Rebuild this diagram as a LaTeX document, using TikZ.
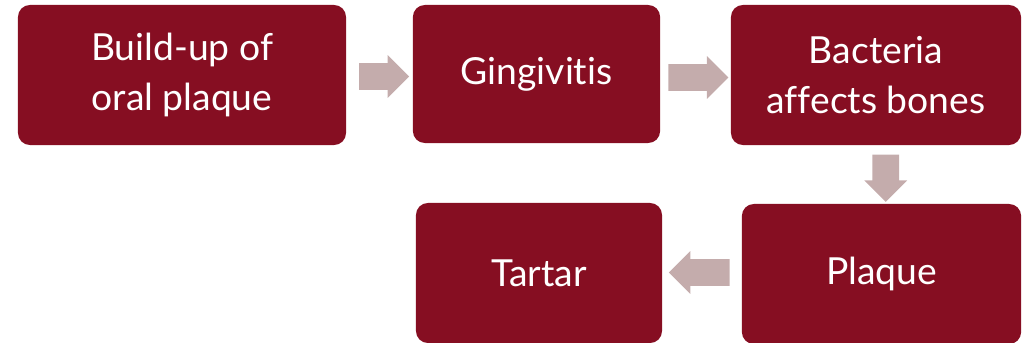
\documentclass[tikz,border=0pt]{standalone}
\usepackage{fontspec}
\setmainfont{Lato}[Ligatures={NoCommon,NoContextual}]
\usetikzlibrary{shapes.arrows,calc}
\definecolor{boxred}{HTML}{860E22}
\definecolor{arrowpink}{HTML}{C4ACAC}

\begin{document}
\begin{tikzpicture}[x=0.025cm,y=-0.025cm,
    stage/.style={rectangle,rounded corners=0.3cm,fill=boxred,text=white,align=center,
                  inner sep=0pt,font=\fontsize{26.5}{35}\selectfont},
    flow/.style={single arrow,fill=arrowpink,inner sep=0.33cm,
                 single arrow head extend=0.2cm,single arrow tip angle=90}]
            \clip (0,0) rectangle (1025,342);
            \node[stage,minimum width=8.2cm,minimum height=3.5cm] (buildup) at (182,75) {Build-up of\\oral plaque};
            \node[stage,minimum width=6.18cm,minimum height=3.45cm] (gingivitis) at (536.5,74) {Gingivitis};
            \node[stage,minimum width=7.25cm,minimum height=3.5cm] (bacteria) at (876,75) {Bacteria\\affects bones};
            \node[stage,minimum width=6.98cm,minimum height=3.5cm] (plaque) at (881.5,274) {Plaque};
            \node[stage,minimum width=6.15cm,minimum height=3.5cm] (tartar) at (539,273) {Tartar};
            \node[flow,minimum height=1.25cm] (a1) at ($(buildup.east)!0.5!(gingivitis.west)+(-2,2)$) {};
            \node[flow,minimum height=1.5cm] (a2) at ($(gingivitis.east)!0.5!(bacteria.west)+(-4,3)$) {};
            \node[flow,minimum height=1.18cm,shape border rotate=270] (a3) at ($(bacteria.south)!0.5!(plaque.north)+(7,-3)$) {};
            \node[flow,minimum height=1.52cm,shape border rotate=180] (a4) at ($(tartar.east)!0.5!(plaque.west)+(4,-1)$) {};
        \end{tikzpicture}
\end{document}
